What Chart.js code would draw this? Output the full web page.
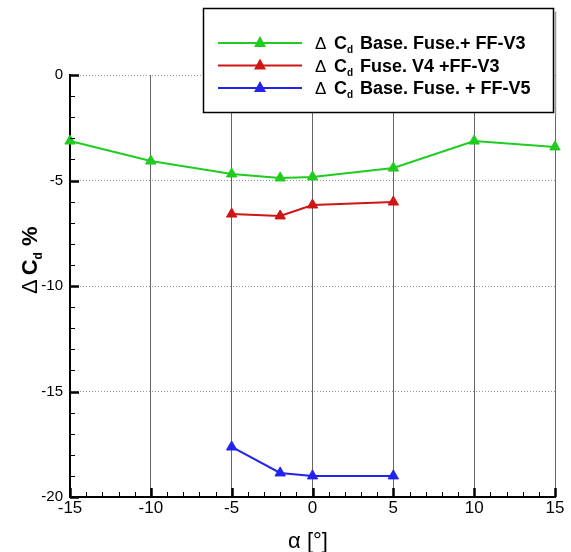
<!DOCTYPE html>
<html>
<head>
	<title>Delta Cd vs alpha</title>
	<script src="https://cdn.jsdelivr.net/npm/chart.js"></script>
	<style>
		body { margin: 0; background: #fff; }
		.chart-container { width: 571px; height: 552px; }
	</style>
</head>
<body>
	<div class="chart-container">
		<canvas id="myChart" width="571" height="552"></canvas>
	</div>
	<script>
		// data
		const alphaGreen = [-15, -10, -5, -2, 0, 5, 10, 15];
		const cdGreen = [-3.13, -4.08, -4.69, -4.88, -4.83, -4.41, -3.13, -3.41];
		const alphaRed = [-5, -2, 0, 5];
		const cdRed = [-6.59, -6.68, -6.16, -6.02];
		const alphaBlue = [-5, -2, 0, 5];
		const cdBlue = [-17.63, -18.86, -19.0, -19.0];
		const seriesNames = ['Base. Fuse.+ FF-V3', 'Fuse. V4 +FF-V3', 'Base. Fuse. + FF-V5'];
		const seriesColors = ['#1fcc1f', '#d01515', '#2323ee'];

		const toPoints = (xs, ys) => xs.map((x, i) => ({x: x, y: ys[i]}));

		const mk = (label, xs, ys, color) => ({
			label: label,
			data: toPoints(xs, ys),
			showLine: true,
			borderColor: color,
			backgroundColor: color,
			borderWidth: 2,
			pointStyle: 'triangle',
			pointRadius: 6,
			pointBorderWidth: 1,
			clip: false
		});

		// minor ticks, axis titles and the boxed legend
		const extras = {
			id: 'extras',
			afterDraw(chart) {
				const ctx = chart.ctx;
				const xs = chart.scales.x, ys = chart.scales.y;
				const left = chart.chartArea.left, bottom = chart.chartArea.bottom;
				ctx.save();
				ctx.strokeStyle = '#000';
				for (let v = -15; v <= 15; v++) {
					const px = Math.round(xs.getPixelForValue(v)) + 0.5;
					const major = v % 5 === 0;
					ctx.lineWidth = major ? 2.5 : 1;
					ctx.beginPath();
					ctx.moveTo(px, bottom);
					ctx.lineTo(px, bottom - (major ? 9 : 5));
					ctx.stroke();
				}
				for (let v = -20; v <= 0; v++) {
					const py = Math.round(ys.getPixelForValue(v)) + 0.5;
					const major = v % 5 === 0;
					ctx.lineWidth = major ? 2.5 : 1;
					ctx.beginPath();
					ctx.moveTo(left, py);
					ctx.lineTo(left + (major ? 9 : 5), py);
					ctx.stroke();
				}

				// x title
				ctx.fillStyle = '#000';
				ctx.font = '22px "Liberation Sans", Arial, sans-serif';
				ctx.textAlign = 'center';
				ctx.textBaseline = 'alphabetic';
				ctx.fillText('\u03B1 [\u00B0]', 308, 548);

				// y title, rotated
				ctx.save();
				ctx.translate(37, 294);
				ctx.rotate(-Math.PI / 2);
				ctx.textAlign = 'left';
				let cx = 0;
				ctx.font = '22px "Liberation Sans", Arial, sans-serif';
				ctx.fillText('\u0394', cx, 0);
				cx += ctx.measureText('\u0394').width + 4;
				ctx.font = 'bold 22px "Liberation Sans", Arial, sans-serif';
				ctx.fillText('C', cx, 0);
				cx += ctx.measureText('C').width;
				ctx.font = 'bold 12px "Liberation Sans", Arial, sans-serif';
				ctx.fillText('d', cx, 5);
				cx += ctx.measureText('d').width;
				ctx.font = 'bold 22px "Liberation Sans", Arial, sans-serif';
				ctx.fillText(' %', cx, 0);
				ctx.restore();

				// legend box
				const bx = 203.5, by = 8.5, bw = 350, bh = 104;
				ctx.fillStyle = '#fff';
				ctx.fillRect(bx, by, bw, bh);
				ctx.strokeStyle = '#999';
				ctx.lineWidth = 1.5;
				ctx.beginPath();
				ctx.moveTo(bx + bw + 2, by + 3);
				ctx.lineTo(bx + bw + 2, by + bh + 2);
				ctx.stroke();
				ctx.strokeStyle = '#000';
				ctx.lineWidth = 1.5;
				ctx.strokeRect(bx, by, bw, bh);

				chart.data.datasets.forEach((ds, i) => {
					const ry = 43 + i * 22.5;
					ctx.strokeStyle = ds.borderColor;
					ctx.lineWidth = 2;
					ctx.beginPath();
					ctx.moveTo(218, ry);
					ctx.lineTo(302, ry);
					ctx.stroke();
					ctx.fillStyle = ds.borderColor;
					ctx.beginPath();
					ctx.moveTo(260, ry - 7);
					ctx.lineTo(266, ry + 4);
					ctx.lineTo(254, ry + 4);
					ctx.closePath();
					ctx.fill();

					ctx.fillStyle = '#000';
					ctx.textAlign = 'left';
					ctx.textBaseline = 'alphabetic';
					const base = ry + 6;
					ctx.font = '17px "Liberation Sans", Arial, sans-serif';
					ctx.fillText('\u0394', 315, base);
					ctx.font = 'bold 18px "Liberation Sans", Arial, sans-serif';
					ctx.fillText('C', 334, base);
					let tx = 334 + ctx.measureText('C').width;
					ctx.font = 'bold 10px "Liberation Sans", Arial, sans-serif';
					ctx.fillText('d', tx, base + 4);
					ctx.font = 'bold 18px "Liberation Sans", Arial, sans-serif';
					ctx.fillText(seriesNames[i], 360, base);
				});
				ctx.restore();
			}
		};

		const ctx = document.getElementById('myChart').getContext('2d');
		const myChart = new Chart(ctx, {
			type: 'scatter',
			data: {
				datasets: [
					mk(seriesNames[0], alphaGreen, cdGreen, seriesColors[0]),
					mk(seriesNames[1], alphaRed, cdRed, seriesColors[1]),
					mk(seriesNames[2], alphaBlue, cdBlue, seriesColors[2])
				]
			},
			options: {
				responsive: false,
				animation: false,
				layout: { padding: { left: 0, top: 75, right: 16, bottom: 0 } },
				plugins: { legend: { display: false }, tooltip: { enabled: false } },
				scales: {
					x: {
						type: 'linear',
						min: -15,
						max: 15,
						afterFit: s => { s.height = 55; },
						ticks: {
							stepSize: 5,
							padding: 1,
							color: '#000',
							font: { family: '"Liberation Sans", Arial, sans-serif', size: 17 }
						},
						grid: {
							drawTicks: false,
							color: c => c.tick && c.tick.value === -15 ? 'rgba(0,0,0,0)' : '#666',
							lineWidth: 1
						},
						border: { color: '#000', width: 2 }
					},
					y: {
						type: 'linear',
						min: -20,
						max: 0,
						afterFit: s => { s.width = 70; },
						ticks: {
							stepSize: 5,
							padding: 7,
							color: '#000',
							font: { family: '"Liberation Sans", Arial, sans-serif', size: 15 }
						},
						grid: {
							drawTicks: false,
							color: c => c.tick && c.tick.value === -20 ? 'rgba(0,0,0,0)' : '#999',
							lineWidth: 1
						},
						border: { color: '#000', width: 2, dash: [1, 2] }
					}
				}
			},
			plugins: [extras]
		});
	</script>
</body>
</html>
